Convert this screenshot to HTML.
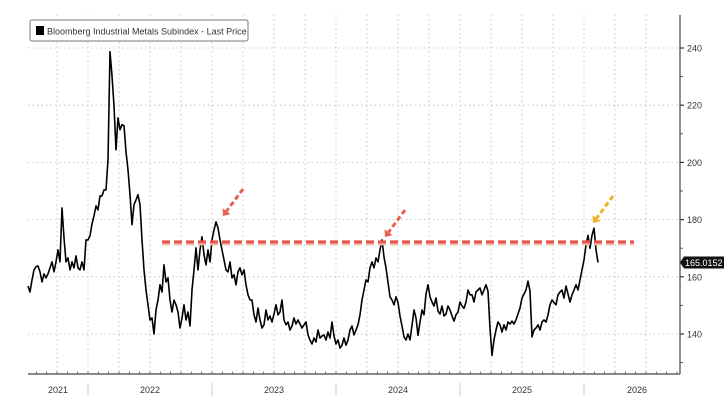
<!DOCTYPE html>
<html><head><meta charset="utf-8">
<style>
html,body{margin:0;padding:0;background:#fff;}
svg{display:block;font-family:"Liberation Sans",sans-serif;}
</style></head>
<body>
<svg id="chart" width="727" height="406" viewBox="0 0 727 406" xmlns="http://www.w3.org/2000/svg">
  <g id="grid"></g>
  <g id="axes"></g>
  <g id="series"></g>
  <g id="annot"></g>
  <g>
    <rect x="30" y="20" width="218" height="21" rx="2" fill="#fff" stroke="#777" stroke-width="1"/>
    <rect x="36" y="26" width="8" height="9" fill="#000"/>
    <text x="47" y="34.5" font-size="9" fill="#333">Bloomberg Industrial Metals Subindex - Last Price</text>
  </g>
</svg>
<script>
const startYear = 2021.516;
const stepYears = 1/62;
const values = [156.8,154.7,158.9,162.4,163.5,163.8,161.7,158.2,161,159.6,161,163.1,165.2,161.7,165.2,169.4,165.2,184.1,173.6,165.2,166.6,162.4,165.2,163.1,167.3,163.1,162.4,165.2,162.4,172.9,172.9,174.3,178.5,181.3,184.8,183.4,188.3,188.3,190.4,190.4,200.9,238.7,230.3,219.8,204.4,215.6,211.4,213.2,212.8,203.7,197.4,188.7,178.2,185.2,186.9,188.7,185.2,172.9,162.4,155.4,150.2,144.9,145.6,140,148.4,151.9,157.2,154.7,164.2,158.2,159.6,151.9,147.7,151.9,150.2,147.7,142.1,145.6,150.2,144.9,147.7,142.8,155.4,162.4,170.1,162.4,169.4,174,167.7,164.2,169.4,165.2,172.9,176.4,179.2,177.1,172.9,169.4,165.9,162.4,161.7,165.2,159.6,160.7,157.2,161.7,163.1,160.7,162.4,157.2,153.7,151.9,151.9,146.7,144.2,149.1,144.9,142.1,143.2,148.4,144.9,146.3,144.2,147,150.2,146.7,147.7,151.9,144.9,143.2,144.2,141.4,142.8,145.6,143.5,144.9,143.5,142.1,143.2,144.2,139.7,137.9,136.5,138.6,137.2,141.4,138.6,139.3,139.7,137.9,140.7,138.6,144.2,139.3,136.5,137.9,135.1,136.1,138.6,136.1,137.9,141.4,142.8,139.7,141.4,143.2,146.7,151.9,155.4,158.9,158.2,163.1,165.2,163.1,166.6,165.2,169.4,172.9,167,163.1,158,153,151.9,150.2,153,151,146.3,142.8,139,137.9,140,137.9,143,148.4,145.6,139.5,144.2,148.4,146.7,154,157.2,153,151.2,149.8,152.6,148,147,149.8,146.3,147,149.8,148.4,146.3,144.5,146.7,147.7,151.2,149.8,149,151.2,155.4,153.7,153.7,151.2,154.7,155.4,156.1,153.7,155.4,157.2,155,142,132.5,138,141.4,144.2,143.2,140.7,143.2,141.4,144.2,143.5,144.5,143.5,145,147,149.1,152.6,154,155.4,158.5,155,139,141.4,142.1,143.2,141.4,144.2,144.9,144.2,146.7,150.2,151.9,151,150.2,153.7,154.7,155.4,152.6,156.8,154,151.2,153.7,155.4,157.2,155.4,158.9,162.4,165.9,171,174.5,170,174.5,177,169.5,165];
const yearLabels = [2021,2022,2023,2024,2025,2026];
const yTicks = [140,160,180,200,220,240];
const yMinor = [130,150,170,190,210,230];
const lastPrice = "165.0152";
const resistance = 172.2;

const NS="http://www.w3.org/2000/svg";
const X0=28, XR=680, YB=374;
function xScale(t){return 88+(t-2022)*124;}
function yScale(v){return 334-(v-140)*2.86;}
function mk(tag,attrs,parent){const e=document.createElementNS(NS,tag);for(const k in attrs)e.setAttribute(k,attrs[k]);parent.appendChild(e);return e;}
const grid=document.getElementById('grid'),axes=document.getElementById('axes'),series=document.getElementById('series'),annot=document.getElementById('annot');

// horizontal grid + right labels
yTicks.forEach(v=>{
  const y=yScale(v);
  const l=mk('line',{x1:X0,x2:XR,y1:y,y2:y,stroke:'#bbb','stroke-width':0.8,'stroke-dasharray':'1.5 3'},grid);
  
  
  const tk=mk('line',{x1:XR,x2:XR+4,y1:y,y2:y,stroke:'#333','stroke-width':1.2},axes);
  
  
  const t=mk('text',{x:XR+7,y:y+3.5,'font-size':9,fill:'#333'},axes);
  t.textContent=v;
  
  
});
yMinor.forEach(v=>{
  const y=yScale(v);
  const tk=mk('line',{x1:XR,x2:XR+3,y1:y,y2:y,stroke:'#555','stroke-width':1},axes);
  
  
});
// vertical grid (quarters)
for(let q=2021.5;q<2026.6;q+=0.25){
  const x=xScale(q); if(x<X0||x>XR) continue;
  const l=mk('line',{x1:x,x2:x,y1:15,y2:YB,stroke:'#bbb','stroke-width':0.8,'stroke-dasharray':'1.5 3'},grid);
  
  
}
// month ticks
for(let m=2021.5;m<2026.75;m+=1/12){
  const x=xScale(m); if(x<X0||x>XR) continue;
  const tk=mk('line',{x1:x,x2:x,y1:YB,y2:YB-2.5,stroke:'#555','stroke-width':0.8},axes);
  
  
}
// axes lines
const ax1=mk('line',{x1:X0,x2:XR,y1:YB,y2:YB,stroke:'#444','stroke-width':1.2},axes);


const ax2=mk('line',{x1:XR,x2:XR,y1:15,y2:YB,stroke:'#444','stroke-width':1.2},axes);


// year labels & separators
yearLabels.forEach(yr=>{
  const a=Math.max(X0,xScale(yr)), b=Math.min(690,xScale(yr+1));
  const t=mk('text',{x:(a+b)/2,y:393,'font-size':9,fill:'#333','text-anchor':'middle'},axes);
  t.textContent=yr;
  
  
  const sx=xScale(yr);
  if(sx>X0&&sx<XR){
    const s=mk('line',{x1:sx,x2:sx,y1:383,y2:396,stroke:'#ccc','stroke-width':1},axes);
    
    
  }
});
// resistance line
const ry=yScale(resistance);
const rs=mk('line',{x1:162,x2:634,y1:ry+1.5,y2:ry+1.5,stroke:'#f2b8b0','stroke-width':4,'stroke-dasharray':'8 4'},annot);


const rl=mk('line',{x1:162,x2:634,y1:ry,y2:ry,stroke:'#e8564a','stroke-width':3,'stroke-dasharray':'8 4'},annot);


// price line
let d='';
values.forEach((v,i)=>{const x=xScale(startYear+i*stepYears),y=yScale(v);d+=(i?'L':'M')+x.toFixed(1)+' '+y.toFixed(1);});
const p=mk('path',{d:d,fill:'none',stroke:'#000','stroke-width':1.6,'stroke-linejoin':'round'},series);


// arrows
function arrow(x1,y1,x2,y2,col,name){
  const g=mk('g',{},annot);
  
  
  const ang=Math.atan2(y2-y1,x2-x1);
  const bx=x2-Math.cos(ang)*6, by=y2-Math.sin(ang)*6;
  mk('line',{x1:x1,y1:y1,x2:bx,y2:by,stroke:col,'stroke-width':3,'stroke-dasharray':'5 3'},g);
  const px=-Math.sin(ang)*5, py=Math.cos(ang)*5;
  mk('polygon',{points:`${x2},${y2} ${bx+px},${by+py} ${bx-px},${by-py}`,fill:col},g);
}
arrow(243,189,223,216,'#e8604f','arrow-2022-peak');
arrow(405,210,385,237,'#e8604f','arrow-2024-peak');
arrow(613,196,593,223,'#f0b428','arrow-2025-peak');
// last price label
const ly=yScale(values[values.length-1]);
const lb=mk('g',{},axes);


mk('polygon',{points:`${XR},${ly} ${XR+4},${ly-6} ${XR+44},${ly-6} ${XR+44},${ly+6} ${XR+4},${ly+6}`,fill:'#111'},lb);
const lt=mk('text',{x:XR+5,y:ly+3.5,'font-size':9,fill:'#fff'},lb);
lt.textContent=lastPrice;
</script>
</body></html>
